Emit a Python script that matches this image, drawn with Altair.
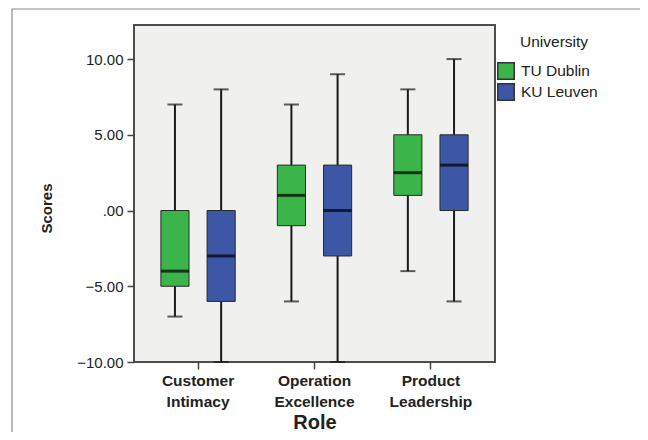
import altair as alt
import pandas as pd

roles = ["Customer Intimacy", "Operation Excellence", "Product Leadership"]
universities = ["TU Dublin", "KU Leuven"]
colors = ["#3bb54a", "#3b57a6"]

# order: roles x universities
mins = [-7, -10, -6, -10, -4, -6]
q1s = [-5, -6, -1, -3, 1, 0]
medians = [-4, -3, 1, 0, 2.5, 3]
q3s = [0, 0, 3, 3, 5, 5]
maxs = [7, 8, 7, 9, 8, 10]
y_ticks = [-10, -5, 0, 5, 10]
legend_title = "University"

rows = []
i = 0
for r in roles:
    for u in universities:
        rows.append({"role": r, "uni": u, "min": mins[i], "q1": q1s[i],
                     "median": medians[i], "q3": q3s[i], "max": maxs[i]})
        i += 1
df = pd.DataFrame(rows)

SANS = "Liberation Sans"

yscale = alt.Scale(domain=[-10, 12.25], nice=False, zero=False)
yaxis = alt.Axis(values=y_ticks,
                 labelExpr="datum.value == 0 ? '.00' : format(datum.value, '.2f')")


def Y(field):
    return alt.Y(field, type="quantitative", scale=yscale, axis=yaxis, title="Scores")


xenc = alt.X("role:N", sort=roles, title="Role",
             scale=alt.Scale(paddingInner=0, paddingOuter=0.05),
             axis=alt.Axis(labelExpr="split(datum.label, ' ')"))
xoff = alt.XOffset("uni:N", sort=universities,
                   scale=alt.Scale(paddingInner=0.391, paddingOuter=0.456))

base = alt.Chart(df).encode(x=xenc, xOffset=xoff)

whisker = base.mark_rule(color="#1a1a1a", strokeWidth=2).encode(y=Y("min"), y2="max:Q")
box = base.mark_bar(stroke="#2a2a2a", strokeWidth=1).encode(
    y=Y("q1"), y2="q3:Q",
    color=alt.Color("uni:N", sort=universities,
                    scale=alt.Scale(domain=universities, range=colors),
                    legend=alt.Legend(title=None, orient="none",
                                      legendX=363, legendY=37, padding=0)))
median = base.mark_tick(color="#000000", thickness=3, size=28).encode(y=Y("median"))
cap_lo = base.mark_tick(color="#1a1a1a", thickness=2, size=15).encode(y=Y("min"))
cap_hi = base.mark_tick(color="#1a1a1a", thickness=2, size=15).encode(y=Y("max"))

frame = alt.Chart(alt.Data(values=[{"f": 1}])).mark_rect(
    fillOpacity=0, stroke="#8a8a8a", strokeWidth=1.2, clip=False
).encode(x=alt.value(-122), x2=alt.value(511), y=alt.value(-16), y2=alt.value(500))

ltitle = alt.Chart(alt.Data(values=[{"t": legend_title}])).mark_text(
    font=SANS, fontSize=15.5, color="#222222", align="left", baseline="middle",
    clip=False
).encode(text="t:N", x=alt.value(386), y=alt.value(17))

chart = alt.layer(frame, whisker, box, median, cap_lo, cap_hi, ltitle).properties(
    width=361, height=337,
    autosize=alt.AutoSizeParams(type="none"),
    padding={"left": 126, "top": 17, "right": 145, "bottom": 70},
    background="white",
).configure_view(
    fill="#f0f1ef", stroke="#4d4d4d", strokeWidth=2
).configure_axis(
    grid=False, domain=False, tickSize=7, tickColor="#444444", tickWidth=1.5,
    labelColor="#222222", titleColor="#222222", labelFont=SANS, titleFont=SANS,
).configure_axisY(
    labelFontSize=15, labelPadding=4,
    titleFontSize=15, titleFontWeight="bold",
    titleX=-88, titleY=183, titleAngle=-90, titleAlign="center",
    titleBaseline="middle",
).configure_axisX(
    labelAngle=0, labelFontSize=15.5, labelFontWeight="bold",
    labelBaseline="top", labelLineHeight=21, labelPadding=4,
    titleFontSize=20, titleFontWeight="bold", titleY=66,
    titleBaseline="alphabetic",
).configure_legend(
    labelFont=SANS, labelFontSize=15.5, labelColor="#222222", labelOffset=6,
    symbolType="square", symbolSize=272, symbolStrokeColor="#333333",
    symbolStrokeWidth=1.5, rowPadding=-3,
)

chart.save("out.html", embed_options={"renderer": "svg", "actions": False})
